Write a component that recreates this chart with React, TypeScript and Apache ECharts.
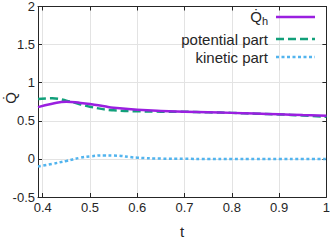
import React, { useEffect, useRef } from "react";
import * as echarts from "echarts";

const tValues = [0.39, 0.42, 0.45, 0.48, 0.5, 0.53, 0.55, 0.6, 0.65, 0.7, 0.75, 0.8, 0.85, 0.9, 0.95, 1.0];
const qhValues = [0.68, 0.725, 0.75, 0.735, 0.72, 0.69, 0.67, 0.646, 0.63, 0.62, 0.612, 0.604, 0.595, 0.585, 0.575, 0.566];
const potentialValues = [0.786, 0.795, 0.765, 0.715, 0.685, 0.65, 0.638, 0.625, 0.62, 0.618, 0.611, 0.604, 0.594, 0.584, 0.57, 0.553];
const kineticValues = [-0.1, -0.065, -0.027, 0.016, 0.033, 0.046, 0.044, 0.016, 0.004, 0.001, 0.0, 0.0, 0.0, 0.0, 0.0, 0.0];
const seriesNames = ["Qh", "potential part", "kinetic part"];
const seriesColors = ["#9a1fe0", "#12a07a", "#52b4ee"];
const seriesDash: (number[] | null)[] = [null, [8, 4], [3, 2.5]];

const FONT = "Liberation Sans, Arial, sans-serif";
const TEXT = "#262626";

export default function App() {
  const ref = useRef<HTMLDivElement>(null);
  useEffect(() => {
    if (!ref.current) return;
    const chart = echarts.init(ref.current, undefined, { renderer: "svg" });
    const pair = (ys: number[]) => tValues.map((t, i) => [t, ys[i]]);
    const axisLine = { show: true, onZero: false, lineStyle: { color: TEXT, width: 1 } };
    const tick = { show: true, inside: true, length: 4, lineStyle: { color: TEXT } };

    const legendRows = [17, 39, 57];
    const legendGraphics: any[] = [];
    seriesNames.forEach((name, i) => {
      const y = legendRows[i];
      legendGraphics.push({
        type: "line",
        shape: { x1: 276, y1: y, x2: 315, y2: y },
        style: { stroke: seriesColors[i], lineWidth: 2.5, lineDash: seriesDash[i] || undefined },
        z: 10,
      });
      legendGraphics.push({
        type: "text",
        x: 268,
        y: i === 0 ? y - 1 : y,
        style: {
          text: i === 0 ? "{q|Q\u0307}{h|h}" : name,
          align: "right",
          verticalAlign: "middle",
          fontSize: 15,
          fontFamily: FONT,
          fill: TEXT,
          rich: {
            q: { fontSize: 15, fontFamily: FONT, fill: TEXT },
            h: { fontSize: 11, fontFamily: FONT, fill: TEXT, padding: [9, 0, 0, 0] },
          },
        },
        z: 10,
      });
    });

    chart.setOption({
      animation: false,
      backgroundColor: "#fff",
      textStyle: { fontFamily: FONT },
      grid: { left: 38, right: 6, top: 6, bottom: 41, containLabel: false },
      graphic: [
        ...legendGraphics,
        {
          type: "text",
          x: 10,
          y: 98,
          rotation: Math.PI / 2,
          style: {
            text: "Q\u0307",
            align: "center",
            verticalAlign: "middle",
            fontSize: 15,
            fontFamily: FONT,
            fill: TEXT,
          },
        },
      ],
      xAxis: [
        {
          type: "value",
          min: 0.39,
          max: 1,
          splitNumber: 6,
          name: "t",
          nameLocation: "middle",
          nameGap: 27,
          nameTextStyle: { fontSize: 15, color: TEXT, fontFamily: FONT },
          axisLine,
          axisTick: tick,
          axisLabel: { showMinLabel: false, fontSize: 13, color: TEXT, margin: 4, fontFamily: FONT },
          splitLine: { show: true, lineStyle: { color: "#e3e3e3", width: 1 } },
        },
        {
          type: "value",
          position: "top",
          min: 0.39,
          max: 1,
          splitNumber: 6,
          axisLine,
          axisTick: tick,
          axisLabel: { show: false },
          splitLine: { show: false },
        },
      ],
      yAxis: [
        {
          type: "value",
          min: -0.5,
          max: 2,
          interval: 0.5,
          axisLine,
          axisTick: tick,
          axisLabel: { fontSize: 13, color: TEXT, margin: 3, fontFamily: FONT },
          splitLine: { show: true, lineStyle: { color: "#e3e3e3", width: 1 } },
        },
        {
          type: "value",
          position: "right",
          min: -0.5,
          max: 2,
          interval: 0.5,
          axisLine,
          axisTick: tick,
          axisLabel: { show: false },
          splitLine: { show: false },
        },
      ],
      series: seriesNames.map((name, i) => ({
        name,
        type: "line",
        data: pair([qhValues, potentialValues, kineticValues][i]),
        smooth: true,
        symbol: "none",
        lineStyle: { color: seriesColors[i], width: 2.5, type: seriesDash[i] || "solid" },
        itemStyle: { color: seriesColors[i] },
        z: 3 - i,
      })),
    });
    return () => chart.dispose();
  }, []);
  return <div ref={ref} style={{ width: 333, height: 244, position: "absolute", left: 0, top: 0 }} />;
}
